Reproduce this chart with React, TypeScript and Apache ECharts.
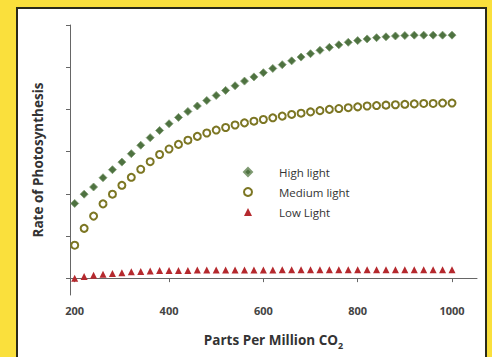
import React, { useEffect, useRef } from "react";
import * as echarts from "echarts";

const xValues = [200, 220, 240, 260, 280, 300, 320, 340, 360, 380, 400, 420, 440, 460, 480, 500, 520, 540, 560, 580, 600, 620, 640, 660, 680, 700, 720, 740, 760, 780, 800, 820, 840, 860, 880, 900, 920, 940, 960, 980, 1000];

const highLight = [1.77, 1.99, 2.16, 2.38, 2.57, 2.75, 2.95, 3.15, 3.33, 3.50, 3.66, 3.81, 3.95, 4.08, 4.21, 4.33, 4.45, 4.56, 4.67, 4.77, 4.87, 4.97, 5.06, 5.15, 5.24, 5.32, 5.40, 5.47, 5.53, 5.59, 5.63, 5.67, 5.70, 5.72, 5.74, 5.75, 5.76, 5.76, 5.76, 5.76, 5.76];

const mediumLight = [0.78, 1.18, 1.47, 1.76, 1.99, 2.20, 2.39, 2.58, 2.76, 2.93, 3.06, 3.17, 3.27, 3.36, 3.44, 3.51, 3.57, 3.63, 3.68, 3.72, 3.76, 3.80, 3.84, 3.88, 3.91, 3.94, 3.97, 4.00, 4.02, 4.04, 4.06, 4.08, 4.09, 4.10, 4.11, 4.12, 4.13, 4.14, 4.14, 4.15, 4.15];

const lowLight = [0.0, 0.04, 0.07, 0.09, 0.11, 0.13, 0.15, 0.16, 0.17, 0.18, 0.18, 0.18, 0.18, 0.19, 0.19, 0.19, 0.19, 0.19, 0.19, 0.19, 0.19, 0.19, 0.2, 0.2, 0.2, 0.2, 0.2, 0.2, 0.2, 0.2, 0.2, 0.2, 0.2, 0.2, 0.2, 0.2, 0.2, 0.2, 0.2, 0.2, 0.2];

const xTickLabels = [200, 400, 600, 800, 1000];
const yTicks = [0, 1, 2, 3, 4, 5, 6];

const seriesNames = ["High light", "Medium light", "Low Light"];

const FONT = "'Open Sans', sans-serif";

export default function App() {
  const ref = useRef<HTMLDivElement>(null);

  useEffect(() => {
    document.body.style.margin = "0";
    if (!ref.current) return;
    const chart = echarts.init(ref.current, null, { renderer: "svg" });
    const pair = (ys: number[]) => xValues.map((x, i) => [x, ys[i]]);

    chart.setOption({
      animation: false,
      backgroundColor: "#FAE03C",
      graphic: [
        {
          type: "rect",
          z: -10,
          shape: { x: 17, y: 8, width: 469, height: 400 },
          style: { fill: "#ffffff", stroke: "#2a2a1a", lineWidth: 2 },
        },
      ],
      grid: { left: 70, top: 25, width: 407, height: 270, containLabel: false },
      legend: {
        orient: "vertical",
        left: 243,
        top: 166,
        itemWidth: 8,
        itemHeight: 8,
        itemGap: 8,
        padding: 0,
        data: seriesNames,
        textStyle: { fontFamily: FONT, fontSize: 11.5, color: "#333", padding: [0, 0, 0, 22] },
      },
      xAxis: {
        type: "value",
        min: 190,
        max: 1053,
        name: "{a|Parts Per Million CO}{b|2}",
        nameLocation: "middle",
        nameGap: 35,
        nameTextStyle: {
          rich: {
            a: { fontFamily: FONT, fontSize: 13.5, fontWeight: "bold", color: "#333", lineHeight: 20, verticalAlign: "middle" },
            b: { fontFamily: FONT, fontSize: 9, fontWeight: "bold", color: "#333", lineHeight: 20, verticalAlign: "bottom" },
          },
        },
        splitLine: { show: false },
        axisLine: { lineStyle: { color: "#666", width: 1 } },
        axisTick: { show: true, customValues: xTickLabels, length: 4, lineStyle: { color: "#666" } },
        axisLabel: {
          customValues: xTickLabels,
          formatter: (v: number) => String(v),
          margin: 10,
          fontFamily: FONT,
          fontSize: 11,
          fontWeight: "bold",
          color: "#444",
        },
      },
      yAxis: {
        type: "value",
        min: -0.4,
        max: 6,
        name: "Rate of Photosynthesis",
        nameLocation: "middle",
        nameGap: 25,
        nameTextStyle: { fontFamily: FONT, fontSize: 13.5, fontWeight: "bold", color: "#333" },
        splitLine: { show: false },
        axisLine: { show: true, lineStyle: { color: "#666", width: 1 } },
        axisTick: { show: true, customValues: yTicks, length: 4, lineStyle: { color: "#666" } },
        axisLabel: { show: false },
      },
      series: [
        {
          name: seriesNames[0],
          type: "scatter",
          symbol: "diamond",
          symbolSize: 8,
          data: pair(highLight),
          itemStyle: { color: "#4e7240", borderColor: "#7f9a72", borderWidth: 0.8, opacity: 1 },
        },
        {
          name: seriesNames[1],
          type: "scatter",
          symbol: "emptyCircle",
          symbolSize: 7,
          data: pair(mediumLight),
          itemStyle: { color: "#7c7623", borderColor: "#7c7623", borderWidth: 1.8, opacity: 1 },
        },
        {
          name: seriesNames[2],
          type: "scatter",
          symbol: "triangle",
          symbolSize: 7,
          data: pair(lowLight),
          itemStyle: { color: "#b5292e", opacity: 1 },
        },
      ],
    });
    return () => chart.dispose();
  }, []);

  return <div ref={ref} style={{ width: 492, height: 357 }} />;
}
